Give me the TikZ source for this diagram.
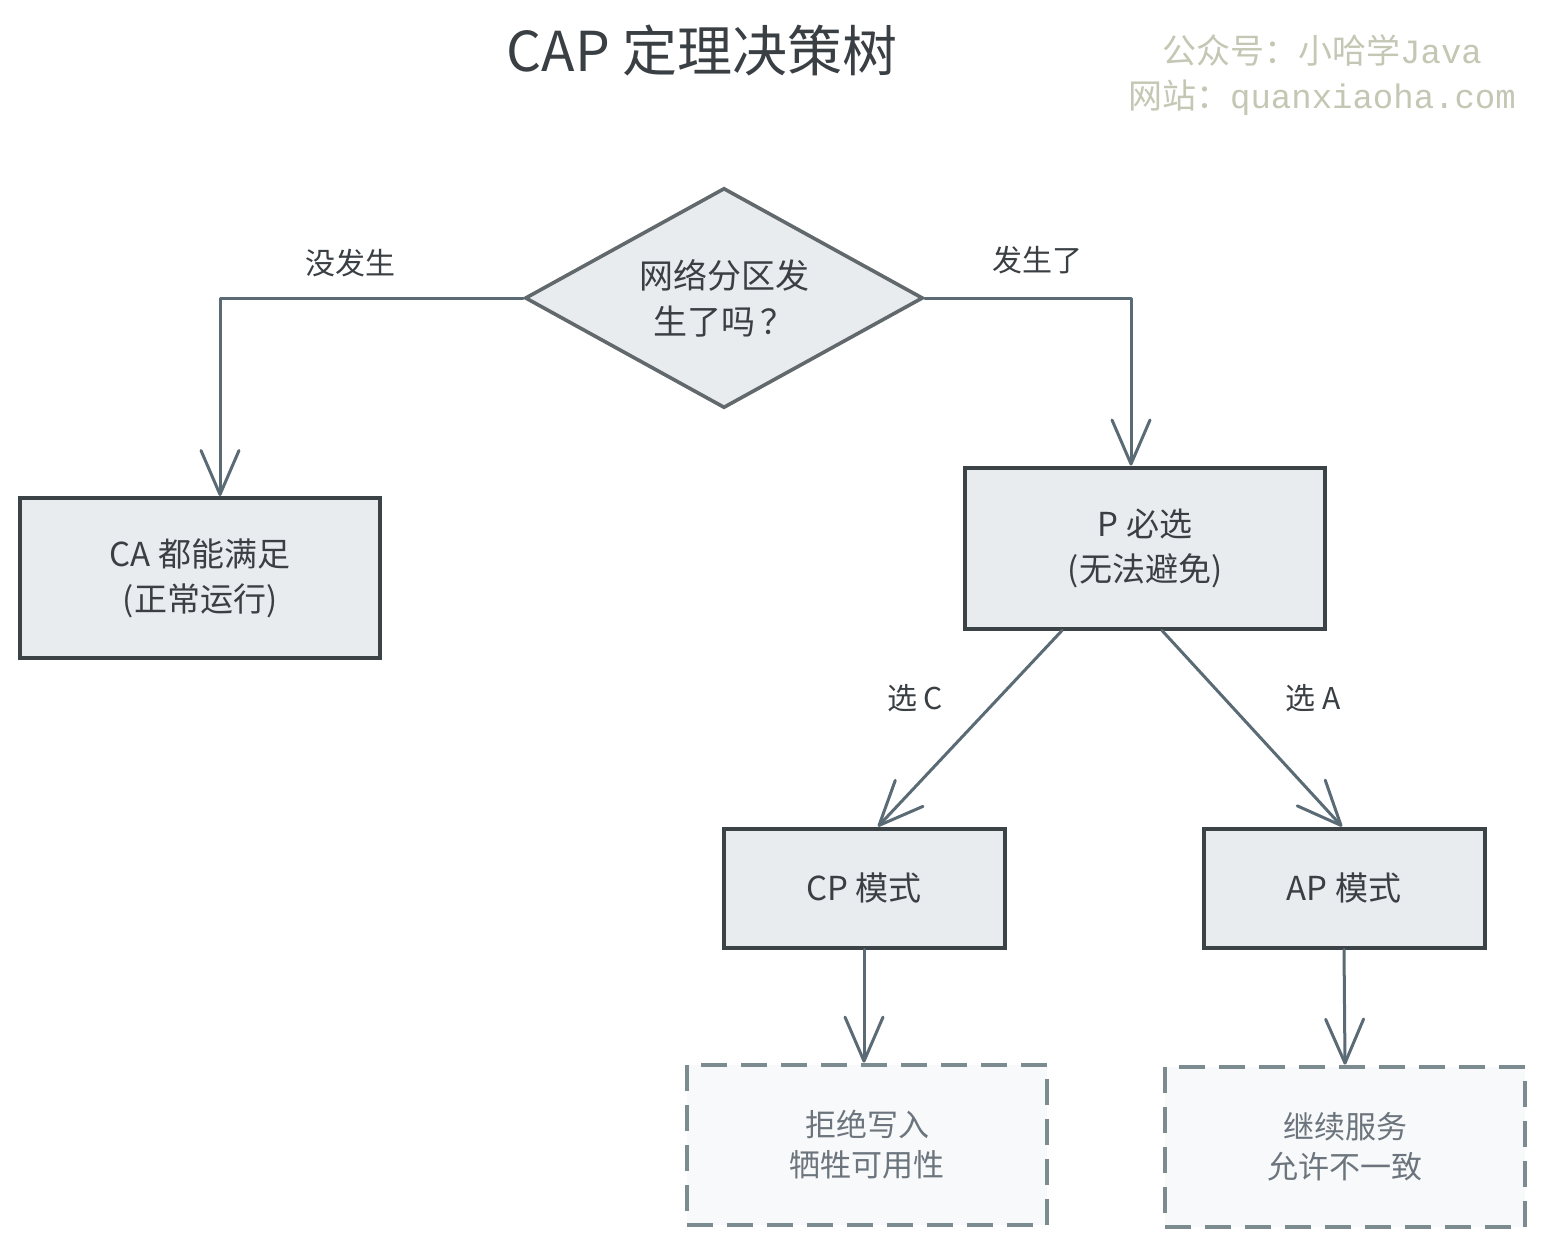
\documentclass[tikz,border=0pt]{standalone}
\usepackage{fontspec}
\setmainfont{Noto Sans CJK SC}
\newfontfamily\wmcjk{Noto Sans CJK SC}
\newfontfamily\wmmono{Liberation Mono}
\usetikzlibrary{arrows.meta,shapes.geometric}
\definecolor{boxline}{HTML}{3B4347}
\definecolor{boxfill}{HTML}{E9ECEF}
\definecolor{arrowc}{HTML}{5B6B75}
\definecolor{textc}{HTML}{3A3F44}
\definecolor{dashline}{HTML}{7B8B8F}
\definecolor{dashfill}{HTML}{F8F9FA}
\definecolor{dashtext}{HTML}{6C757D}
\definecolor{wmc}{HTML}{C3C7B3}
\begin{document}
\begin{tikzpicture}[x=0.5pt,y=-0.5pt,
  solidbox/.style={draw=boxline, line width=2pt, fill=boxfill, text=textc, align=center,
    inner sep=0pt, font=\fontsize{16.5}{22.5}\selectfont},
  dashbox/.style={draw=dashline, line width=2.4pt, fill=dashfill, text=dashtext, align=center,
    inner sep=0pt, dash pattern=on 13pt off 7pt, font=\fontsize{15.5}{20}\selectfont,
    minimum width=180pt, minimum height=80pt},
  decision/.style={diamond, draw=boxline!80, line width=1.8pt, fill=boxfill, text=textc, align=center,
    inner sep=0pt, aspect=1.8, minimum width=199pt, minimum height=110pt,
    font=\fontsize{17}{23}\selectfont},
  flow/.style={draw=arrowc, line width=1.5pt, line cap=round, line join=round,
    -{Straight Barb[length=22pt,width=19pt,round]}},
  edgelabel/.style={text=textc, font=\fontsize{15}{16}\selectfont, inner sep=0pt}
]
\useasboundingbox[fill=white] (0,0) rectangle (1545,1248);

\node[text=textc, font=\fontsize{27.5}{30}\selectfont, inner sep=0pt] (title) at (702,50) {CAP 定理决策树};
\node[text=wmc, align=center, inner sep=0pt, font=\fontsize{17}{22.5}\selectfont] (wm) at (1322,75)
  {{\wmcjk 公众号：小哈学}{\wmmono Java}\\{\wmcjk 网站：}{\wmmono quanxiaoha.com}};

\node[decision] (dia) at (724,298) {网络分区发\\生了吗\,？};

\node[solidbox, minimum width=180pt, minimum height=80pt] (ca) at (200,578) {CA 都能满足\\(正常运行)};
\node[solidbox, minimum width=180pt, minimum height=80.5pt] (p) at (1145,548) {P 必选\\(无法避免)};
\node[solidbox, minimum width=140.5pt, minimum height=59.5pt] (cp) at (864,888) {CP 模式};
\node[solidbox, minimum width=140.5pt, minimum height=59.5pt] (ap) at (1344,888) {AP 模式};

\node[dashbox] (rej) at (867,1145) {拒绝写入\\牺牲可用性};
\node[dashbox] (cont) at (1345,1147) {继续服务\\允许不一致};

\draw[flow] (dia.west) -| ([xshift=10pt]ca.north);
\draw[flow] (dia.east) -| ([xshift=-7pt]p.north);
\draw[flow] ([xshift=-41.5pt]p.south) -- ([xshift=7pt]cp.north);
\draw[flow] ([xshift=8.5pt]p.south) -- ([xshift=-1pt]ap.north);
\draw[flow] (cp.south) -- ([xshift=-1.5pt]rej.north);
\draw[flow] (ap.south) -- (cont.north);

\node[edgelabel] (l1) at (350,263) {没发生};
\node[edgelabel] (l2) at (1037,260) {发生了};
\node[edgelabel] (l3) at (915,698) {选 C};
\node[edgelabel] (l4) at (1313,698) {选 A};
\end{tikzpicture}
\end{document}
